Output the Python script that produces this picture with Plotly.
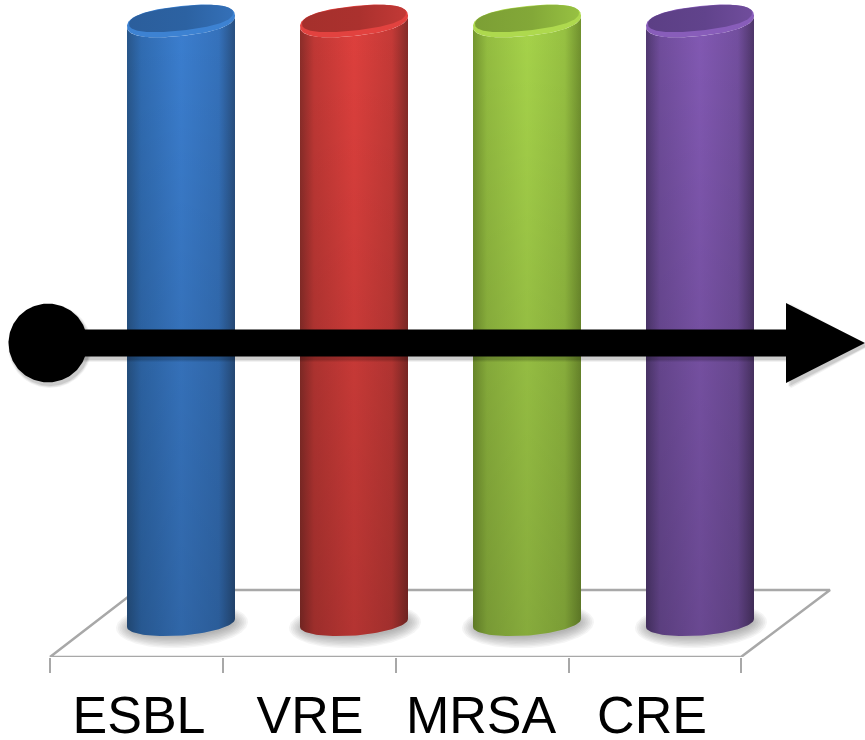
import numpy as np
import plotly.graph_objects as go

categories = ["ESBL", "VRE", "MRSA", "CRE"]
values = [602, 602, 602, 602]

# horizontal shading of each cylinder: edge, shoulder, centre, shoulder, edge
shades = {
    "ESBL": ["#28568a", "#306cb2", "#3b7ecf", "#3572bc", "#284f80"],
    "VRE": ["#8a2d29", "#c03835", "#de403d", "#c53a37", "#852b28"],
    "MRSA": ["#74962f", "#94bd41", "#a6d34a", "#97c142", "#70902e"],
    "CRE": ["#503870", "#704d9c", "#8259b3", "#734f9f", "#4d3568"],
}
rims = {"ESBL": "#3d82d2", "VRE": "#e2423f", "MRSA": "#aed94e", "CRE": "#885dba"}
caps = {
    "ESBL": ["#2b5e9c", "#2c62a2", "#3470b8"],
    "VRE": ["#a5302c", "#ab312e", "#c23936"],
    "MRSA": ["#7c9f35", "#83a838", "#97c142"],
    "CRE": ["#5c3f85", "#61438c", "#704d9c"],
}

CENTER0, STEP = 181, 173
A = 53.5
TH = np.linspace(0, 2 * np.pi, 181)
POW = 0.85


def ell(cx, cy, a, shear, b, th=TH, p=1.0):
    c, s = np.cos(th), np.sin(th)
    c = np.sign(c) * np.abs(c) ** p
    s = np.sign(s) * np.abs(s) ** p
    return cx + a * c, cy + shear * c + b * s


def area(x, y, color=None, grad=None, name=""):
    kw = dict(fillgradient=grad) if grad else dict(fillcolor=color)
    return go.Scatter(x=x, y=y, mode="lines", line=dict(width=0), fill="toself",
                      name=name, hoverinfo="skip", showlegend=False, **kw)


fig = go.Figure()

# floor
fig.add_trace(go.Scatter(x=[50, 741, 830, 137, 50], y=[-34, -34, 33, 33, -34], mode="lines",
                         line=dict(color="#a8a8a8", width=2.5), hoverinfo="skip", showlegend=False))

for i, (cat, val) in enumerate(zip(categories, values)):
    cx = CENTER0 + STEP * i
    # soft contact shadow
    for k in range(9):
        sx, sy = ell(cx + 1, -2, 66 - k * 1.8, 3, 23 - k * 1.4)
        fig.add_trace(area(sx, sy, "rgba(80,80,80,0.06)"))
    # body outline: back along top, down right side, along the front of the base
    front = np.linspace(0, np.pi, 60)
    bx, by = ell(cx, 0, A + 0.5, 4, -12.5, front)
    tx, ty = ell(cx, val, A + 0.5, 5.5, -15, front[::-1], POW)
    x = np.concatenate([bx, tx, bx[:1]])
    y = np.concatenate([by, ty, by[:1]])
    s = shades[cat]
    fig.add_trace(area(x, y, grad=dict(type="horizontal", colorscale=[
        [0, s[0]], [0.13, s[1]], [0.5, s[2]], [0.85, s[3]], [1, s[4]]]), name=cat))
    # vertical dimming towards the floor
    fig.add_trace(area(x, y, grad=dict(type="vertical", colorscale=[
        [0, "rgba(0,0,0,0.19)"], [0.55, "rgba(0,0,0,0.09)"], [1, "rgba(0,0,0,0)"]])))
    # cap: bright rim and darker inner face
    rx, ry = ell(cx, val, A + 0.5, 5.5, 15, TH, POW)
    fig.add_trace(area(rx, ry, rims[cat]))
    ix, iy = ell(cx, val + 2.5, A - 1.5, 5.5, 12, TH, POW)
    c = caps[cat]
    fig.add_trace(area(ix, iy, grad=dict(type="horizontal", colorscale=[[0, c[0]], [0.55, c[1]], [1, c[2]]])))

# timeline arrow, with a soft drop shadow
ARROW_Y = 280
START_X, HEAD_X, TIP_X = 48, 786, 865
R, HALF_SHAFT, HALF_HEAD = 39.5, 13.5, 40


def arrow_path(dx=0.0, dy=0.0, grow=0.0):
    xs = [START_X, HEAD_X + grow, HEAD_X + grow, TIP_X + grow, HEAD_X + grow, HEAD_X + grow, START_X, START_X]
    ys = [ARROW_Y + HALF_SHAFT + grow, ARROW_Y + HALF_SHAFT + grow, ARROW_Y + HALF_HEAD + grow, ARROW_Y,
          ARROW_Y - HALF_HEAD - grow, ARROW_Y - HALF_SHAFT - grow, ARROW_Y - HALF_SHAFT - grow,
          ARROW_Y + HALF_SHAFT + grow]
    return np.array(xs) + dx, np.array(ys) + dy


for g, a in [(2.5, 0.05), (1.5, 0.07), (0.5, 0.09)]:
    sx, sy = arrow_path(2, -3, g)
    fig.add_trace(area(sx, sy, f"rgba(0,0,0,{a})"))
    cx_, cy_ = ell(START_X + 2, ARROW_Y - 3, R + g, 0, R + g)
    fig.add_trace(area(cx_, cy_, f"rgba(0,0,0,{a})"))
ax, ay = arrow_path()
fig.add_trace(area(ax, ay, "#000000"))
cx_, cy_ = ell(START_X, ARROW_Y, R, 0, R)
fig.add_trace(area(cx_, cy_, "#000000"))

label_pos = [139 + 171 * i for i in range(len(categories))]
edge_pos = [50, 223, 396, 569, 741]

fig.update_layout(
    width=865, height=740, margin=dict(l=0, r=0, t=0, b=83),
    paper_bgcolor="white", plot_bgcolor="white", showlegend=False,
    font=dict(family="Liberation Sans, Arial, sans-serif", color="#000000"),
    xaxis=dict(range=[0, 865], showgrid=False, zeroline=False, showline=False, automargin=False,
               tickmode="array", tickvals=label_pos, ticktext=categories,
               tickfont=dict(size=52, color="#000000"), ticks="outside", ticklen=13,
               tickcolor="rgba(0,0,0,0)",
               minor=dict(tickmode="array", tickvals=edge_pos, ticks="outside", ticklen=15,
                          tickwidth=2, tickcolor="#a8a8a8", showgrid=False)),
    yaxis=dict(range=[-34, 623], visible=False, automargin=False),
)
fig.write_html("out.html", config=dict(displayModeBar=False),
               post_script="document.body.style.margin='0';")
